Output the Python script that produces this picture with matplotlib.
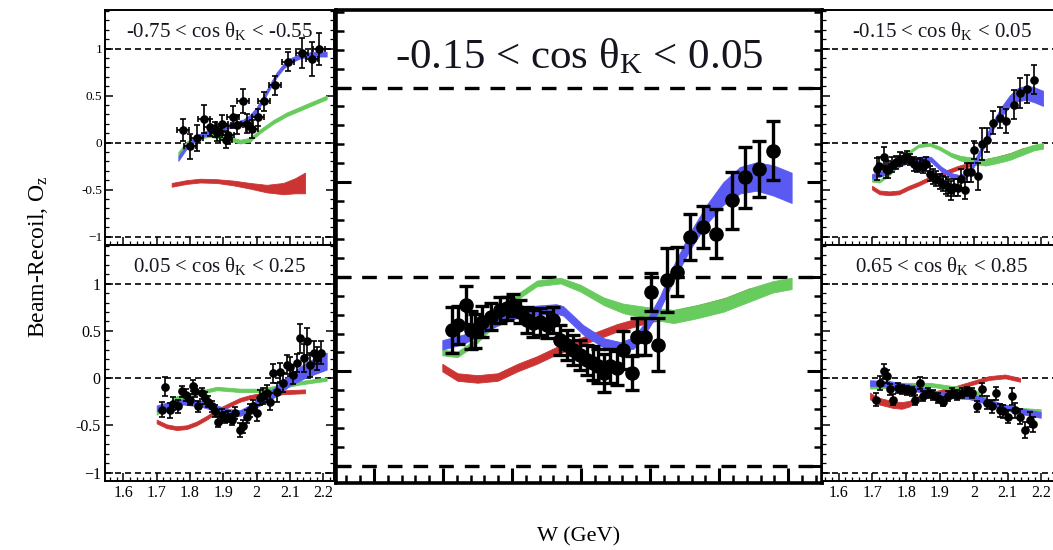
import numpy as np
import matplotlib.pyplot as plt
from matplotlib.ticker import MultipleLocator

plt.rcParams['font.family'] = ['Liberation Serif', 'DejaVu Serif']
plt.rcParams['mathtext.fontset'] = 'custom'
plt.rcParams['mathtext.rm'] = 'Liberation Serif'
plt.rcParams['mathtext.it'] = 'Liberation Serif:italic'

# model band colours
BLUE = '#5a5af2'
GREEN = '#68cb5e'
RED = '#cc3434'

# ---------------- -0.75 < cos theta_K < -0.55
W_TL = [1.778, 1.800, 1.820, 1.842, 1.860, 1.875, 1.882, 1.895, 1.908, 1.915, 1.928,
        1.940, 1.958, 1.970, 1.985, 2.005, 2.022, 2.055, 2.095, 2.137, 2.167, 2.187]
OZ_TL = [0.135, -0.04, 0.047, 0.25, 0.16, 0.14, 0.10, 0.20, 0.03, 0.08, 0.27,
         0.19, 0.44, 0.20, 0.145, 0.27, 0.44, 0.61, 0.86, 0.95, 0.89, 0.99]
ERR_TL = [0.12, 0.13, 0.14, 0.15, 0.09, 0.08, 0.08, 0.09, 0.09, 0.10, 0.12,
          0.10, 0.13, 0.10, 0.10, 0.09, 0.10, 0.10, 0.10, 0.16, 0.18, 0.17]

TL_BLUE_W = [1.765, 1.79, 1.82, 1.86, 1.91, 1.96, 1.98, 2.0, 2.02, 2.04, 2.06, 2.08, 2.10, 2.13, 2.17, 2.21]
TL_BLUE_Y = [-0.17, -0.04, 0.05, 0.12, 0.17, 0.22, 0.27, 0.35, 0.47, 0.60, 0.72, 0.81, 0.87, 0.92, 0.94, 0.94]
TL_BLUE_H = [0.025] * 16
TL_GREEN_W = [1.765, 1.79, 1.82, 1.86, 1.91, 1.95, 1.98, 2.01, 2.05, 2.09, 2.15, 2.21]
TL_GREEN_Y = [-0.12, -0.01, 0.06, 0.08, 0.05, 0.01, 0.03, 0.12, 0.22, 0.30, 0.39, 0.48]
TL_GREEN_H = [0.02] * 12
TL_RED_W = [1.745, 1.79, 1.83, 1.88, 1.93, 1.98, 2.03, 2.08, 2.115, 2.145]
TL_RED_Y = [-0.45, -0.42, -0.405, -0.41, -0.43, -0.46, -0.49, -0.49, -0.46, -0.43]
TL_RED_H = [0.02, 0.02, 0.02, 0.02, 0.025, 0.03, 0.04, 0.06, 0.08, 0.11]

# ---------------- 0.05 < cos theta_K < 0.25
W_BL = [1.715, 1.725, 1.74, 1.75, 1.765, 1.775, 1.788, 1.80, 1.808, 1.815, 1.825, 1.835,
        1.845, 1.855, 1.865, 1.875, 1.885, 1.895, 1.905, 1.915, 1.925, 1.935, 1.95, 1.96,
        1.97, 1.98, 1.99, 2.0, 2.01, 2.02, 2.03, 2.04, 2.048, 2.06, 2.07, 2.08, 2.092,
        2.10, 2.11, 2.12, 2.13, 2.142, 2.152, 2.16, 2.172, 2.182, 2.192]
OZ_BL = [-0.336, -0.09, -0.34, -0.27, -0.30, -0.14, -0.18, -0.23, -0.08, -0.14, -0.30, -0.16,
         -0.21, -0.25, -0.30, -0.35, -0.46, -0.39, -0.42, -0.41, -0.44, -0.37, -0.55, -0.51,
         -0.41, -0.34, -0.30, -0.37, -0.21, -0.19, -0.16, -0.25, 0.05, -0.15, 0.06, -0.05, 0.14,
         0.12, 0.035, 0.16, 0.42, 0.21, 0.39, 0.14, 0.27, 0.21, 0.27]
ERR_BL = [0.08, 0.1, 0.08, 0.07, 0.07, 0.06, 0.06, 0.06, 0.06, 0.06, 0.06, 0.06,
          0.06, 0.06, 0.06, 0.06, 0.06, 0.06, 0.06, 0.06, 0.06, 0.06, 0.07, 0.07,
          0.07, 0.07, 0.07, 0.08, 0.08, 0.08, 0.09, 0.09, 0.1, 0.1, 0.1, 0.1, 0.1,
          0.1, 0.1, 0.1, 0.15, 0.15, 0.14, 0.13, 0.12, 0.12, 0.12]

BL_BLUE_W = [1.70, 1.74, 1.78, 1.83, 1.88, 1.92, 1.95, 1.98, 2.0, 2.05, 2.10, 2.15, 2.21]
BL_BLUE_Y = [-0.32, -0.28, -0.25, -0.27, -0.32, -0.36, -0.37, -0.32, -0.27, -0.16, -0.02, 0.09, 0.18]
BL_BLUE_H = [0.03, 0.03, 0.03, 0.03, 0.03, 0.03, 0.03, 0.035, 0.04, 0.05, 0.06, 0.08, 0.09]
BL_GREEN_W = [1.70, 1.73, 1.76, 1.79, 1.82, 1.88, 1.95, 2.01, 2.07, 2.13, 2.21]
BL_GREEN_Y = [-0.37, -0.29, -0.21, -0.18, -0.16, -0.11, -0.13, -0.13, -0.09, -0.05, -0.01]
BL_GREEN_H = [0.018] * 11
BL_RED_W = [1.70, 1.73, 1.76, 1.79, 1.82, 1.85, 1.88, 1.92, 1.95, 1.98, 2.01, 2.08, 2.145]
BL_RED_Y = [-0.46, -0.51, -0.53, -0.52, -0.48, -0.42, -0.35, -0.28, -0.23, -0.20, -0.18, -0.15, -0.14]
BL_RED_H = [0.02] * 13

# ---------------- -0.15 < cos theta_K < 0.05 (small and enlarged panel)
W_MID = [1.713, 1.721, 1.733, 1.740, 1.747, 1.757, 1.769, 1.783, 1.793, 1.802, 1.812,
         1.822, 1.831, 1.841, 1.851, 1.860, 1.870, 1.880, 1.889, 1.899, 1.909, 1.918,
         1.925, 1.933, 1.942, 1.952, 1.961, 1.974, 1.981, 1.993, 2.002, 2.012, 2.024,
         2.039, 2.058, 2.077, 2.096, 2.118, 2.137, 2.158, 2.178]
OZ_MID = [-0.281, -0.254, -0.149, -0.281, -0.289, -0.237, -0.211, -0.175, -0.167, -0.149, -0.184,
          -0.228, -0.246, -0.237, -0.254, -0.228, -0.333, -0.360, -0.386, -0.412, -0.439, -0.456,
          -0.474, -0.509, -0.474, -0.482, -0.386, -0.509, -0.316, -0.316, -0.079, -0.360, -0.018,
          0.026, 0.211, 0.263, 0.228, 0.404, 0.526, 0.570, 0.667]
ERR_MID = [0.12, 0.10, 0.10, 0.10, 0.09, 0.08, 0.07, 0.07, 0.06, 0.06, 0.06,
           0.07, 0.07, 0.07, 0.07, 0.07, 0.08, 0.08, 0.08, 0.08, 0.08, 0.09,
           0.09, 0.10, 0.09, 0.09, 0.10, 0.09, 0.10, 0.10, 0.10, 0.14, 0.17,
           0.13, 0.12, 0.11, 0.13, 0.15, 0.16, 0.15, 0.155]

MID_BLUE_W = [1.699, 1.730, 1.769, 1.800, 1.826, 1.864, 1.874, 1.903, 1.933, 1.957, 1.976,
              1.995, 2.014, 2.034, 2.058, 2.082, 2.106, 2.130, 2.154, 2.178, 2.205]
MID_BLUE_Y = [-0.36, -0.33, -0.25, -0.20, -0.18, -0.17, -0.18, -0.28, -0.35, -0.37, -0.35,
              -0.26, -0.14, 0.02, 0.19, 0.33, 0.44, 0.51, 0.53, 0.51, 0.47]
MID_BLUE_H = [0.025, 0.025, 0.025, 0.025, 0.025, 0.025, 0.025, 0.025, 0.025, 0.025, 0.03,
              0.03, 0.035, 0.04, 0.045, 0.05, 0.06, 0.07, 0.075, 0.08, 0.08]
MID_GREEN_W = [1.699, 1.721, 1.745, 1.779, 1.808, 1.836, 1.870, 1.899, 1.933, 1.961, 1.995,
               2.034, 2.067, 2.106, 2.144, 2.178, 2.205]
MID_GREEN_Y = [-0.40, -0.41, -0.35, -0.23, -0.105, -0.035, -0.02, -0.06, -0.13, -0.167, -0.19,
               -0.21, -0.185, -0.15, -0.096, -0.053, -0.035]
MID_GREEN_H = [0.015, 0.015, 0.015, 0.015, 0.015, 0.015, 0.015, 0.018, 0.02, 0.025, 0.03,
               0.035, 0.035, 0.035, 0.035, 0.03, 0.03]
MID_RED_W = [1.699, 1.721, 1.750, 1.779, 1.808, 1.836, 1.865, 1.894, 1.923, 1.952, 1.981,
             2.0, 2.03, 2.07, 2.11, 2.145]
MID_RED_Y = [-0.48, -0.53, -0.54, -0.53, -0.48, -0.44, -0.39, -0.35, -0.31, -0.27, -0.24,
             -0.22, -0.20, -0.17, -0.13, -0.08]
MID_RED_H = [0.02] * 16

# ---------------- 0.65 < cos theta_K < 0.85
W_BR = [1.711, 1.723, 1.733, 1.743, 1.752, 1.762, 1.775, 1.787, 1.802, 1.817, 1.826, 1.841,
        1.851, 1.866, 1.880, 1.895, 1.910, 1.925, 1.935, 1.950, 1.964, 1.979, 1.994, 2.011,
        2.024, 2.038, 2.053, 2.065, 2.078, 2.087, 2.100, 2.114, 2.122, 2.137, 2.152, 2.166, 2.176]
OZ_BR = [-0.23, -0.053, 0.07, 0.018, -0.12, -0.23, -0.106, -0.12, -0.13, -0.14, -0.23, -0.053,
         -0.19, -0.16, -0.18, -0.21, -0.25, -0.19, -0.16, -0.18, -0.16, -0.14, -0.16, -0.30,
         -0.12, -0.26, -0.30, -0.16, -0.34, -0.35, -0.41, -0.19, -0.34, -0.41, -0.55, -0.44, -0.49]
ERR_BR = [0.07, 0.07, 0.08, 0.07, 0.06, 0.06, 0.05, 0.05, 0.05, 0.05, 0.05, 0.06,
          0.05, 0.05, 0.05, 0.05, 0.05, 0.05, 0.05, 0.05, 0.05, 0.05, 0.05, 0.06,
          0.07, 0.07, 0.07, 0.07, 0.07, 0.07, 0.07, 0.09, 0.08, 0.08, 0.08, 0.08, 0.08]

BR_BLUE_W = [1.693, 1.747, 1.826, 1.905, 1.984, 2.024, 2.083, 2.14, 2.198]
BR_BLUE_Y = [-0.053, -0.06, -0.106, -0.18, -0.19, -0.23, -0.30, -0.35, -0.39]
BR_BLUE_H = [0.03] * 9
BR_GREEN_W = [1.693, 1.72, 1.78, 1.87, 1.94, 1.995, 2.035, 2.085, 2.134, 2.198]
BR_GREEN_Y = [-0.09, -0.09, -0.07, -0.07, -0.105, -0.12, -0.23, -0.30, -0.335, -0.35]
BR_GREEN_H = [0.02] * 10
BR_RED_W = [1.693, 1.715, 1.738, 1.76, 1.787, 1.81, 1.826, 1.855, 1.885, 1.915, 1.945,
            1.994, 2.044, 2.093, 2.137]
BR_RED_Y = [-0.19, -0.24, -0.26, -0.28, -0.29, -0.27, -0.23, -0.19, -0.16, -0.13, -0.106,
            -0.053, 0.0, 0.018, -0.018]
BR_RED_H = [0.035, 0.035, 0.035, 0.035, 0.035, 0.03, 0.025, 0.025, 0.02, 0.02, 0.02,
            0.02, 0.02, 0.02, 0.02]

TITLES = {
    'tl': r'-0.75 < cos θ$_\mathrm{K}$ < -0.55',
    'bl': r'0.05 < cos θ$_\mathrm{K}$ < 0.25',
    'mid': r'-0.15 < cos θ$_\mathrm{K}$ < 0.05',
    'br': r'0.65 < cos θ$_\mathrm{K}$ < 0.85',
}
X_TICKS = [1.6, 1.7, 1.8, 1.9, 2.0, 2.1, 2.2]
X_TICK_LABELS = ['1.6', '1.7', '1.8', '1.9', '2', '2.1', '2.2']
Y_TICKS = [-1, -0.5, 0, 0.5, 1]
Y_TICK_LABELS = ['\u22121', '-0.5', '0', '0.5', '1']

FIG_W, FIG_H = 1053, 550


def box(x0, y0, x1, y1):
    # pixel box (from top-left) -> figure fraction rect
    return [x0 / FIG_W, 1 - y1 / FIG_H, (x1 - x0) / FIG_W, (y1 - y0) / FIG_H]


def band(ax, w, y, h, color, z):
    w = np.asarray(w)
    y = np.asarray(y)
    h = np.asarray(h)
    ax.fill_between(w, y - h, y + h, color=color, lw=0.6, edgecolor=color, zorder=z)


def setup(ax, xlim, big=False):
    ax.set_xlim(*xlim)
    ax.set_ylim(-1.09, 1.41)
    for s in ax.spines.values():
        s.set_linewidth(2.6 if big else 1.4)
    ax.set_xticks(X_TICKS)
    ax.xaxis.set_minor_locator(MultipleLocator(0.02))
    ax.set_yticks(Y_TICKS)
    ax.yaxis.set_minor_locator(MultipleLocator(0.1))
    ax.tick_params(which='both', direction='in', top=False, right=True,
                   labelleft=False, labelbottom=False)
    ax.tick_params(which='major', length=11 if big else 6, width=2.2 if big else 1.1)
    ax.tick_params(which='minor', length=5.5 if big else 3, width=1.8 if big else 0.9)
    if big:
        dash = dict(lw=2.4, ls=(0, (4.4, 3.3)))
    else:
        dash = dict(lw=1.2, ls=(0, (3.6, 2.4)))
    for yv in (-1, 0, 1):
        ax.axhline(yv, color='k', zorder=1, **dash)


def draw(ax, data, bands, title, big=False, xerr=None):
    for (w, y, h), c, z in zip(bands, (RED, GREEN, BLUE), (2, 3, 4)):
        band(ax, w, y, h, c, z)
    W, OZ, ERR = data
    ax.errorbar(W, OZ, yerr=ERR, xerr=xerr, fmt='o', color='k',
                ms=9.5 if big else 5.2, elinewidth=2.4 if big else 1.2,
                capsize=5 if big else 2.2, capthick=2.4 if big else 1.2, zorder=5)
    if big:
        ax.text(0.5, 0.9, title, transform=ax.transAxes, ha='center', va='center',
                fontsize=31, color='#15151f')
    else:
        ax.text(0.5, 0.91, title, transform=ax.transAxes, ha='center', va='center',
                fontsize=15, color='#15151f')


fig = plt.figure(figsize=(FIG_W / 100, FIG_H / 100), dpi=100)

ax_tl = fig.add_axes(box(105, 10, 334, 245))
ax_bl = fig.add_axes(box(105, 245, 334, 481))
ax_c = fig.add_axes(box(336, 10, 822, 483))
ax_tr = fig.add_axes(box(822, 10, 1062, 245))
ax_br = fig.add_axes(box(822, 245, 1062, 481))

XL_LEFT = (1.545, 2.232)
XL_RIGHT = (1.551, 2.261)
XL_MID = (1.545, 2.249)

for ax in (ax_tl, ax_bl):
    setup(ax, XL_LEFT)
    ax.tick_params(labelleft=True, labelsize=9.5, pad=2)
    ax.set_yticklabels(Y_TICK_LABELS)
setup(ax_c, XL_MID, big=True)
for ax in (ax_tr, ax_br):
    setup(ax, XL_RIGHT)
for ax in (ax_bl, ax_br):
    ax.tick_params(labelbottom=True, labelsize=11.5, pad=3)
    ax.set_xticklabels(X_TICK_LABELS)

draw(ax_tl, (W_TL, OZ_TL, ERR_TL),
     [(TL_RED_W, TL_RED_Y, TL_RED_H), (TL_GREEN_W, TL_GREEN_Y, TL_GREEN_H),
      (TL_BLUE_W, TL_BLUE_Y, TL_BLUE_H)], TITLES['tl'], xerr=0.018)
draw(ax_bl, (W_BL, OZ_BL, ERR_BL),
     [(BL_RED_W, BL_RED_Y, BL_RED_H), (BL_GREEN_W, BL_GREEN_Y, BL_GREEN_H),
      (BL_BLUE_W, BL_BLUE_Y, BL_BLUE_H)], TITLES['bl'])
mid_bands = [(MID_RED_W, MID_RED_Y, MID_RED_H), (MID_GREEN_W, MID_GREEN_Y, MID_GREEN_H),
             (MID_BLUE_W, MID_BLUE_Y, MID_BLUE_H)]
draw(ax_c, (W_MID, OZ_MID, ERR_MID), mid_bands, TITLES['mid'], big=True)
draw(ax_tr, (W_MID, OZ_MID, ERR_MID), mid_bands, TITLES['mid'])
draw(ax_br, (W_BR, OZ_BR, ERR_BR),
     [(BR_RED_W, BR_RED_Y, BR_RED_H), (BR_GREEN_W, BR_GREEN_Y, BR_GREEN_H),
      (BR_BLUE_W, BR_BLUE_Y, BR_BLUE_H)], TITLES['br'])

fig.text(38 / FIG_W, 1 - 257 / FIG_H, r'Beam-Recoil, O$_\mathrm{z}$', rotation=90,
         ha='center', va='center', fontsize=17)
fig.text(579 / FIG_W, 1 - 537 / FIG_H, 'W (GeV)', ha='center', va='center', fontsize=16)

fig.savefig('out.png', dpi=100)
